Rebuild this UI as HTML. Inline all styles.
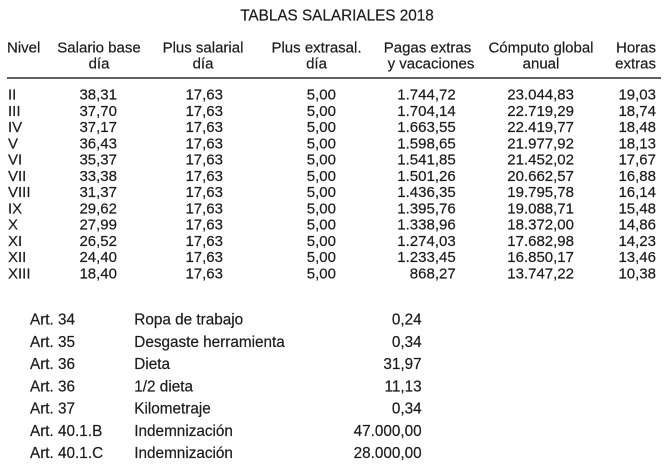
<!DOCTYPE html>
<html>
<head>
<meta charset="utf-8">
<style>
  html,body{margin:0;padding:0;background:#fff;}
  svg{display:block;}
  text{font-family:"Liberation Sans",Arial,sans-serif;font-size:15px;fill:#1c1c1c;stroke:#1c1c1c;stroke-width:0.2;}
  .m{text-anchor:middle;}
  .e{text-anchor:end;}
  .b text{font-size:15.3px;}
  .t{font-size:15.3px;}
</style>
</head>
<body>
<svg width="669" height="469" viewBox="0 0 669 469" xmlns="http://www.w3.org/2000/svg">
  <text x="337" y="20.5" class="m t">TABLAS SALARIALES 2018</text>

  <!-- header -->
  <text x="7" y="52.3">Nivel</text>
  <text x="99" y="52.3" class="m">Salario base</text>
  <text x="99" y="68.5" class="m">día</text>
  <text x="203" y="52.3" class="m">Plus salarial</text>
  <text x="203" y="68.5" class="m">día</text>
  <text x="316.5" y="52.3" class="m">Plus extrasal.</text>
  <text x="316.5" y="68.5" class="m">día</text>
  <text x="427.5" y="52.3" class="m">Pagas extras</text>
  <text x="431" y="68.5" class="m">y vacaciones</text>
  <text x="541" y="52.3" class="m">Cómputo global</text>
  <text x="541" y="68.5" class="m">anual</text>
  <text x="656" y="52.3" class="e">Horas</text>
  <text x="656" y="68.5" class="e">extras</text>

  <rect x="7" y="77.3" width="654" height="1.4" fill="#1c1c1c"/>

  <!-- rows -->
  <g>
    <text x="8" y="99.5">II</text><text x="117" y="99.5" class="e">38,31</text><text x="223" y="99.5" class="e">17,63</text><text x="336" y="99.5" class="e">5,00</text><text x="455.7" y="99.5" class="e">1.744,72</text><text x="574" y="99.5" class="e">23.044,83</text><text x="656" y="99.5" class="e">19,03</text>
    <text x="8" y="115.77">III</text><text x="117" y="115.77" class="e">37,70</text><text x="223" y="115.77" class="e">17,63</text><text x="336" y="115.77" class="e">5,00</text><text x="455.7" y="115.77" class="e">1.704,14</text><text x="574" y="115.77" class="e">22.719,29</text><text x="656" y="115.77" class="e">18,74</text>
    <text x="8" y="132.04">IV</text><text x="117" y="132.04" class="e">37,17</text><text x="223" y="132.04" class="e">17,63</text><text x="336" y="132.04" class="e">5,00</text><text x="455.7" y="132.04" class="e">1.663,55</text><text x="574" y="132.04" class="e">22.419,77</text><text x="656" y="132.04" class="e">18,48</text>
    <text x="8" y="148.31">V</text><text x="117" y="148.31" class="e">36,43</text><text x="223" y="148.31" class="e">17,63</text><text x="336" y="148.31" class="e">5,00</text><text x="455.7" y="148.31" class="e">1.598,65</text><text x="574" y="148.31" class="e">21.977,92</text><text x="656" y="148.31" class="e">18,13</text>
    <text x="8" y="164.58">VI</text><text x="117" y="164.58" class="e">35,37</text><text x="223" y="164.58" class="e">17,63</text><text x="336" y="164.58" class="e">5,00</text><text x="455.7" y="164.58" class="e">1.541,85</text><text x="574" y="164.58" class="e">21.452,02</text><text x="656" y="164.58" class="e">17,67</text>
    <text x="8" y="180.85">VII</text><text x="117" y="180.85" class="e">33,38</text><text x="223" y="180.85" class="e">17,63</text><text x="336" y="180.85" class="e">5,00</text><text x="455.7" y="180.85" class="e">1.501,26</text><text x="574" y="180.85" class="e">20.662,57</text><text x="656" y="180.85" class="e">16,88</text>
    <text x="8" y="197.12">VIII</text><text x="117" y="197.12" class="e">31,37</text><text x="223" y="197.12" class="e">17,63</text><text x="336" y="197.12" class="e">5,00</text><text x="455.7" y="197.12" class="e">1.436,35</text><text x="574" y="197.12" class="e">19.795,78</text><text x="656" y="197.12" class="e">16,14</text>
    <text x="8" y="213.39">IX</text><text x="117" y="213.39" class="e">29,62</text><text x="223" y="213.39" class="e">17,63</text><text x="336" y="213.39" class="e">5,00</text><text x="455.7" y="213.39" class="e">1.395,76</text><text x="574" y="213.39" class="e">19.088,71</text><text x="656" y="213.39" class="e">15,48</text>
    <text x="8" y="229.66">X</text><text x="117" y="229.66" class="e">27,99</text><text x="223" y="229.66" class="e">17,63</text><text x="336" y="229.66" class="e">5,00</text><text x="455.7" y="229.66" class="e">1.338,96</text><text x="574" y="229.66" class="e">18.372,00</text><text x="656" y="229.66" class="e">14,86</text>
    <text x="8" y="245.93">XI</text><text x="117" y="245.93" class="e">26,52</text><text x="223" y="245.93" class="e">17,63</text><text x="336" y="245.93" class="e">5,00</text><text x="455.7" y="245.93" class="e">1.274,03</text><text x="574" y="245.93" class="e">17.682,98</text><text x="656" y="245.93" class="e">14,23</text>
    <text x="8" y="262.2">XII</text><text x="117" y="262.2" class="e">24,40</text><text x="223" y="262.2" class="e">17,63</text><text x="336" y="262.2" class="e">5,00</text><text x="455.7" y="262.2" class="e">1.233,45</text><text x="574" y="262.2" class="e">16.850,17</text><text x="656" y="262.2" class="e">13,46</text>
    <text x="8" y="278.47">XIII</text><text x="117" y="278.47" class="e">18,40</text><text x="223" y="278.47" class="e">17,63</text><text x="336" y="278.47" class="e">5,00</text><text x="455.7" y="278.47" class="e">868,27</text><text x="574" y="278.47" class="e">13.747,22</text><text x="656" y="278.47" class="e">10,38</text>
  </g>

  <!-- bottom table -->
  <g class="b">
    <text x="30" y="324.5">Art. 34</text><text x="134.3" y="324.5">Ropa de trabajo</text><text x="421.7" y="324.5" class="e">0,24</text>
    <text x="30" y="346.75">Art. 35</text><text x="134.3" y="346.75">Desgaste herramienta</text><text x="421.7" y="346.75" class="e">0,34</text>
    <text x="30" y="369">Art. 36</text><text x="134.3" y="369">Dieta</text><text x="421.7" y="369" class="e">31,97</text>
    <text x="30" y="391.25">Art. 36</text><text x="134.3" y="391.25">1/2 dieta</text><text x="421.7" y="391.25" class="e">11,13</text>
    <text x="30" y="413.5">Art. 37</text><text x="134.3" y="413.5">Kilometraje</text><text x="421.7" y="413.5" class="e">0,34</text>
    <text x="30" y="435.75">Art. 40.1.B</text><text x="134.3" y="435.75">Indemnización</text><text x="421.7" y="435.75" class="e">47.000,00</text>
    <text x="30" y="458">Art. 40.1.C</text><text x="134.3" y="458">Indemnización</text><text x="421.7" y="458" class="e">28.000,00</text>
  </g>
</svg>
</body>
</html>
